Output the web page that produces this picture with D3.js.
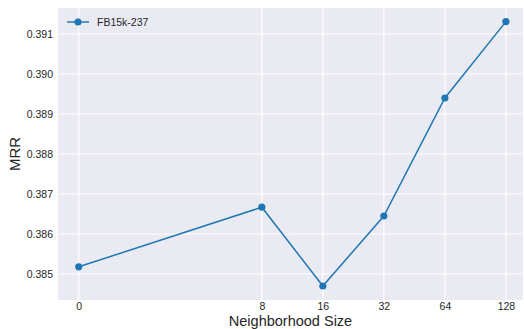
<!DOCTYPE html>
<html>
<head>
<meta charset="utf-8">
<script src="https://cdn.jsdelivr.net/npm/d3@7"></script>
<style>
  html, body { margin: 0; padding: 0; background: #fff; }
  svg { display: block; }
  text { font-family: "Liberation Sans", Arial, sans-serif; }
</style>
</head>
<body>
<svg id="chart" width="524" height="329"></svg>
<script>
// Neighborhood sizes (tick labels) and their log2-style positions on the x axis
const sizes = ["0", "8", "16", "32", "64", "128"];
const sizePos = [0, 3, 4, 5, 6, 7];
// MRR on FB15k-237 for each neighborhood size
const mrr = [0.38518, 0.38667, 0.38470, 0.38645, 0.38940, 0.39131];
const yTicks = [0.385, 0.386, 0.387, 0.388, 0.389, 0.390, 0.391];
const seriesName = "FB15k-237";

const W = 524, H = 329;
const plot = { left: 58, top: 8, right: 523, bottom: 300 };
const blue = "#1f77b4";
const textColor = "#262626";

const svg = d3.select("#chart");

const x = d3.scaleLinear().domain([-0.34, 7.28]).range([plot.left, plot.right]);
const y = d3.scaleLinear().domain([0.38435, 0.39165]).range([plot.bottom, plot.top]);

// plot background
svg.append("rect")
  .attr("x", plot.left).attr("y", plot.top)
  .attr("width", plot.right - plot.left).attr("height", plot.bottom - plot.top)
  .attr("fill", "#EAEAF2");

// grid lines
const grid = svg.append("g");
grid.selectAll("line.gy").data(yTicks).join("line")
  .attr("x1", plot.left).attr("x2", plot.right)
  .attr("y1", d => y(d)).attr("y2", d => y(d))
  .attr("stroke", "#fff").attr("stroke-width", 1.1);
grid.selectAll("line.gx").data(sizePos).join("line")
  .attr("y1", plot.top).attr("y2", plot.bottom)
  .attr("x1", d => x(d)).attr("x2", d => x(d))
  .attr("stroke", "#fff").attr("stroke-width", 1.1);

// y tick labels
const yAxis = d3.axisLeft(y).tickValues(yTicks).tickFormat(d3.format(".3f")).tickSize(0).tickPadding(5);
const gy = svg.append("g").attr("transform", `translate(${plot.left},0)`).call(yAxis);
gy.select(".domain").remove();
gy.selectAll("text").attr("font-size", 10.5).attr("fill", textColor)
  .style("font-family", '"Liberation Sans", Arial, sans-serif');

// x tick labels
const xAxis = d3.axisBottom(x).tickValues(sizePos).tickFormat((d, i) => sizes[i]).tickSize(0).tickPadding(3);
const gx = svg.append("g").attr("transform", `translate(0,${plot.bottom})`).call(xAxis);
gx.select(".domain").remove();
gx.selectAll("text").attr("font-size", 10.5).attr("fill", textColor)
  .style("font-family", '"Liberation Sans", Arial, sans-serif');

// axis titles
svg.append("text")
  .attr("x", (plot.left + plot.right) / 2).attr("y", 326)
  .attr("text-anchor", "middle").attr("font-size", 14.5).attr("fill", textColor)
  .text("Neighborhood Size");
svg.append("text")
  .attr("transform", `translate(20,${(plot.top + plot.bottom) / 2}) rotate(-90)`)
  .attr("text-anchor", "middle").attr("font-size", 15).attr("fill", textColor)
  .text("MRR");

// series line and markers
const pts = sizePos.map((p, i) => [p, mrr[i]]);
svg.append("path")
  .datum(pts)
  .attr("fill", "none").attr("stroke", blue).attr("stroke-width", 1.5)
  .attr("d", d3.line().x(d => x(d[0])).y(d => y(d[1])));
svg.selectAll("circle.pt").data(pts).join("circle")
  .attr("cx", d => x(d[0])).attr("cy", d => y(d[1]))
  .attr("r", 3.6).attr("fill", blue);

// legend
const lg = svg.append("g").attr("transform", "translate(67,22)");
lg.append("line").attr("x1", 0).attr("x2", 22).attr("y1", 0).attr("y2", 0)
  .attr("stroke", blue).attr("stroke-width", 1.5);
lg.append("circle").attr("cx", 11).attr("cy", 0).attr("r", 3.6).attr("fill", blue);
lg.append("text").attr("x", 30).attr("y", 0).attr("dy", "0.35em")
  .attr("font-size", 10.5).attr("fill", textColor).text(seriesName);
</script>
</body>
</html>
